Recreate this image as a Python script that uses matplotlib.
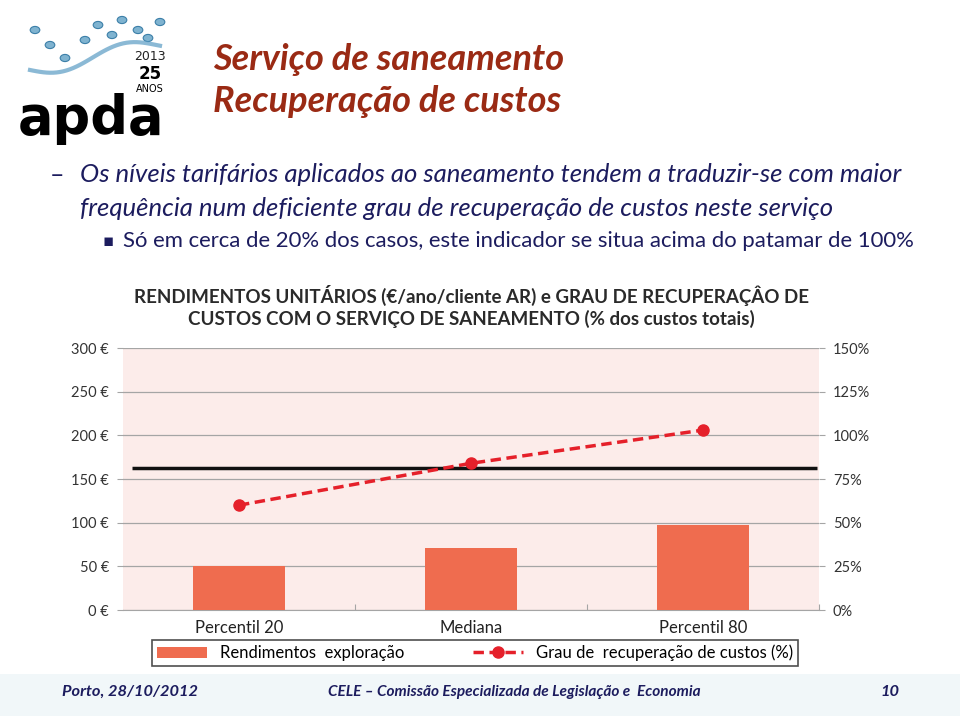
import matplotlib.pyplot as plt
from matplotlib.patches import Patch, Rectangle, Circle
from matplotlib.lines import Line2D
import numpy as np

# data
categories = ['Percentil 20', 'Mediana', 'Percentil 80']
rendimentos = [50, 71, 97]          # €/ano/cliente AR
grau_recuperacao = [60, 84, 103]    # % dos custos totais
referencia = 163                    # black reference line (€)

left_ticks = [0, 50, 100, 150, 200, 250, 300]
right_ticks = [0, 25, 50, 75, 100, 125, 150]

W, H = 960, 716
fig = plt.figure(figsize=(9.6, 7.16), dpi=100)
fig.patch.set_facecolor('white')


def fx(px):
    return px / W


def fy(py):
    return 1 - py / H


narrow = ['Lato', 'DejaVu Sans']
slide_font = ['Lato', 'DejaVu Sans']
navy = '#1c1c5e'
title_red = '#9a2a14'

# footer band
fig.patches.append(Rectangle((0, 0), 1, fy(674), transform=fig.transFigure,
                             facecolor='#f1f7f9', edgecolor='none', zorder=0))

# --- logo (rough) ---
fig.text(fx(18), fy(134), 'apda', fontsize=38, fontweight='bold', color='black',
         family='DejaVu Sans', va='baseline', ha='left')
fig.text(fx(150), fy(57), '2013', fontsize=9, color='#222222', ha='center', va='center')
fig.text(fx(150), fy(74), '25', fontsize=12, fontweight='bold', color='black', ha='center', va='center')
fig.text(fx(150), fy(89), 'ANOS', fontsize=7, color='black', ha='center', va='center')
splash_x = [35, 50, 65, 85, 98, 112, 122, 138, 148, 160]
splash_y = [30, 45, 58, 40, 25, 35, 20, 30, 38, 22]
for sx, sy in zip(splash_x, splash_y):
    fig.patches.append(Circle((fx(sx), fy(sy)), 0.005, transform=fig.transFigure,
                              facecolor='#7fb3d0', edgecolor='#3c7fa8', lw=0.8, zorder=1))
sw = np.linspace(30, 160, 40)
fig.add_artist(Line2D(fx(sw), fy(70 - 0.2 * (sw - 30) + 8 * np.sin((sw - 30) / 20)),
                      color='#5a9cc4', lw=3, alpha=0.7))

# --- slide title and bullets ---
fig.text(fx(213), fy(60), 'Serviço de saneamento', fontsize=26, fontweight='bold',
         style='italic', color=title_red, family=slide_font, va='center')
fig.text(fx(213), fy(102), 'Recuperação de custos', fontsize=26, fontweight='bold',
         style='italic', color=title_red, family=slide_font, va='center')

fig.text(fx(50), fy(175), '–', fontsize=18, color=navy, family=slide_font, va='center')
fig.text(fx(80), fy(175), 'Os níveis tarifários aplicados ao saneamento tendem a traduzir-se com maior',
         fontsize=18.5, style='italic', color=navy, family=slide_font, va='center')
fig.text(fx(80), fy(208), 'frequência num deficiente grau de recuperação de custos neste serviço',
         fontsize=18.5, style='italic', color=navy, family=slide_font, va='center')
fig.text(fx(102), fy(241), '▪', fontsize=12, color=navy, family='DejaVu Sans', va='center')
fig.text(fx(123), fy(241), 'Só em cerca de 20% dos casos, este indicador se situa acima do patamar de 100%',
         fontsize=15.9, color=navy, family=slide_font, va='center')

# --- chart title ---
fig.text(fx(471), fy(295), 'RENDIMENTOS UNITÁRIOS (€/ano/cliente AR) e GRAU DE RECUPERAÇÂO DE',
         fontsize=13.5, fontweight='bold', color='#2a2a2a', family=narrow, ha='center', va='center')
fig.text(fx(471), fy(319), 'CUSTOS COM O SERVIÇO DE SANEAMENTO (% dos custos totais)',
         fontsize=13.5, fontweight='bold', color='#2a2a2a', family=narrow, ha='center', va='center')

# --- chart ---
ax = fig.add_axes([fx(123), fy(610), fx(819) - fx(123), (610 - 348) / H])
ax.set_facecolor('#fcecea')
x = np.arange(len(categories))
ax.bar(x, rendimentos, width=0.4, color='#ef6c4f', zorder=3)
ax.hlines(referencia, -0.46, 2.49, color='#111111', lw=2.5, zorder=4)
ax.set_xlim(-0.5, 2.5)
ax.set_ylim(0, 300)
ax.set_yticks(left_ticks)
ax.set_yticklabels([f'{v} €' for v in left_ticks])
ax.yaxis.grid(True, color='#a5a5a5', lw=0.9, zorder=0)
ax.set_axisbelow(True)
ax.set_xticks([0.5, 1.5, 2.5], minor=False)
ax.set_xticklabels([])
ax.set_xticks(x, minor=True)
ax.set_xticklabels(categories, minor=True, fontsize=12, family=narrow, color='#222222')
ax.tick_params(axis='x', which='minor', length=0, pad=7)
ax.tick_params(axis='x', which='major', length=4, color='#a5a5a5', direction='in')
ax.tick_params(axis='y', length=4, color='#a5a5a5', labelsize=10.5, labelcolor='#333333', pad=6)
for lab in ax.get_yticklabels():
    lab.set_family(narrow)
for s in ['top', 'left', 'right']:
    ax.spines[s].set_visible(False)
ax.spines['bottom'].set_color('#a5a5a5')

ax2 = ax.twinx()
ax2.plot(x, grau_recuperacao, color='#e5202a', lw=2.5, ls=(0, (3, 1.6)),
         marker='o', markersize=8, zorder=5)
ax2.set_ylim(0, 150)
ax2.set_yticks(right_ticks)
ax2.set_yticklabels([f'{v}%' for v in right_ticks])
ax2.tick_params(axis='y', length=4, color='#a5a5a5', labelsize=10.5, labelcolor='#333333', pad=6)
for lab in ax2.get_yticklabels():
    lab.set_family(narrow)
for s in ['top', 'left', 'right', 'bottom']:
    ax2.spines[s].set_visible(False)

handles = [Patch(facecolor='#ef6c4f', edgecolor='none'),
           Line2D([0], [0], color='#e5202a', lw=2.5, ls=(0, (3, 1.6)), marker='o', markersize=8)]
leg = fig.legend(handles, ['Rendimentos  exploração', 'Grau de  recuperação de custos (%)'],
                 loc='center', bbox_to_anchor=(fx(475), fy(653)), ncol=2, frameon=True,
                 fancybox=False, edgecolor='#222222', columnspacing=4.1,
                 handlelength=3, borderpad=0.3, prop={'family': narrow, 'size': 12})
leg.get_frame().set_linewidth(1.2)

# --- footer ---
fig.text(fx(62), fy(692), 'Porto, 28/10/2012', fontsize=11.8, fontweight='bold', style='italic',
         color=navy, family=slide_font, va='center')
fig.text(fx(328), fy(692), 'CELE – Comissão Especializada de Legislação e  Economia', fontsize=11.1,
         fontweight='bold', style='italic', color=navy, family=slide_font, va='center')
fig.text(fx(880), fy(692), '10', fontsize=11.8, fontweight='bold', style='italic',
         color=navy, family=slide_font, va='center')

fig.savefig('out.png', dpi=100)
